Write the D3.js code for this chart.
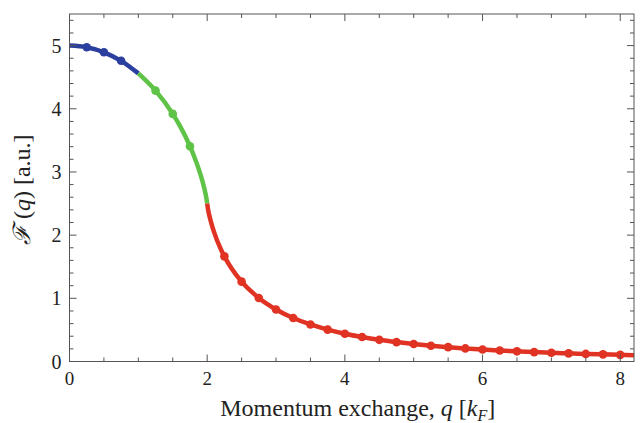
<!DOCTYPE html>
<html><head>
<meta charset="utf-8">
<script src="https://d3js.org/d3.v7.min.js"></script>
<style>
  body { margin: 0; background: white; }
  svg text { font-family: "Liberation Serif", "DejaVu Serif", serif; fill: #222; }
</style>
</head>
<body>
<svg id="chart" width="640" height="423"></svg>
<script>
// curve samples (q in k_F, F in a.u.)
let lineQ = [0, 0.25, 0.5, 0.75, 1, 1.25, 1.5, 1.6, 1.75, 1.8, 1.9, 1.95, 1.99, 2,
             2.01, 2.05, 2.1, 2.2, 2.25, 2.35, 2.5, 2.75, 3, 3.25, 3.5, 3.75, 4, 4.25, 4.5, 4.75,
             5, 5.25, 5.5, 5.75, 6, 6.25, 6.5, 6.75, 7, 7.25, 7.5, 7.75, 8, 8.2];
let lineF = [5.0, 4.974, 4.894, 4.759, 4.560, 4.287, 3.919, 3.736, 3.407, 3.277, 2.970, 2.777, 2.575, 2.5,
             2.425, 2.229, 2.047, 1.773, 1.664, 1.480, 1.264, 1.006, 0.824, 0.689, 0.586, 0.505, 0.440, 0.387, 0.343, 0.307,
             0.276, 0.249, 0.227, 0.207, 0.189, 0.174, 0.161, 0.149, 0.138, 0.129, 0.120, 0.113, 0.105, 0.100];

// dot positions
let dotQ = [0.25, 0.5, 0.75, 1.25, 1.5, 1.75, 2.25, 2.5, 2.75, 3, 3.25, 3.5, 3.75, 4, 4.25, 4.5, 4.75,
            5, 5.25, 5.5, 5.75, 6, 6.25, 6.5, 6.75, 7, 7.25, 7.5, 7.75, 8];

// colour bands along q
let bandStart = [0, 1, 2];
let bandEnd = [1, 2, 8.2];
let bandColor = ["#2b3f9e", "#5ec346", "#e03324"];

let xTicks = [0, 2, 4, 6, 8];
let yTicks = [0, 1, 2, 3, 4, 5];

let svg = d3.select("#chart");
let L = 69.5, R = 634, T = 14, B = 361.5;

let x = d3.scaleLinear().domain([0, 8.2]).range([L, R]);
let y = d3.scaleLinear().domain([0, 5.5]).range([B, T]);

let pts = lineQ.map((q, i) => [q, lineF[i]]);
let fAt = q => pts.find(p => p[0] === q)[1];

svg.append("clipPath").attr("id", "clip")
  .append("rect").attr("x", L).attr("y", T).attr("width", R - L).attr("height", B - T);

let plot = svg.append("g").attr("clip-path", "url(#clip)");

let line = d3.line().x(d => x(d[0])).y(d => y(d[1])).curve(d3.curveMonotoneX);

bandStart.forEach((s, i) => {
  let seg = pts.filter(p => p[0] >= s && p[0] <= bandEnd[i]);
  plot.append("path")
    .attr("d", line(seg))
    .attr("fill", "none")
    .attr("stroke", bandColor[i])
    .attr("stroke-width", 4.5);
});

plot.selectAll("circle.dot")
  .data(dotQ)
  .enter().append("circle")
  .attr("class", "dot")
  .attr("cx", d => x(d))
  .attr("cy", d => y(fAt(d)))
  .attr("r", 4.3)
  .attr("fill", d => bandColor[bandStart.findIndex((s, i) => d >= s && d <= bandEnd[i])]);

// frame + ticks on all sides, pointing inward
let frame = svg.append("g").attr("stroke", "#555").attr("stroke-width", 1);
frame.append("rect").attr("x", L).attr("y", T).attr("width", R - L).attr("height", B - T)
  .attr("fill", "none");

let xMinor = d3.range(0, 8.21, 0.5);
xMinor.forEach(v => {
  let len = (v % 2 === 0) ? 7 : 4;
  frame.append("line").attr("x1", x(v)).attr("x2", x(v)).attr("y1", B).attr("y2", B - len);
  frame.append("line").attr("x1", x(v)).attr("x2", x(v)).attr("y1", T).attr("y2", T + len);
});
let yMinor = d3.range(0, 5.51, 0.2);
yMinor.forEach(v => {
  let major = Math.abs(v - Math.round(v)) < 1e-6;
  let len = major ? 7 : 4;
  frame.append("line").attr("x1", L).attr("x2", L + len).attr("y1", y(v)).attr("y2", y(v));
  frame.append("line").attr("x1", R).attr("x2", R - len).attr("y1", y(v)).attr("y2", y(v));
});

svg.selectAll("text.xt").data(xTicks).enter().append("text")
  .attr("class", "xt")
  .attr("x", d => x(d)).attr("y", B + 23.5)
  .attr("text-anchor", "middle")
  .style("font-size", "19px")
  .text(d => d);

svg.selectAll("text.yt").data(yTicks).enter().append("text")
  .attr("class", "yt")
  .attr("x", L - 8).attr("y", d => y(d) + 7)
  .attr("text-anchor", "end")
  .style("font-size", "20px")
  .text(d => d);

// axis labels
let xl = svg.append("text")
  .attr("x", (L + R) / 2 + 6).attr("y", 416)
  .attr("text-anchor", "middle")
  .style("font-size", "24px");
xl.append("tspan").text("Momentum exchange, ");
xl.append("tspan").style("font-style", "italic").text("q");
xl.append("tspan").text(" [");
xl.append("tspan").style("font-style", "italic").text("k");
xl.append("tspan").style("font-style", "italic").style("font-size", "16px").attr("dy", 5).text("F");
xl.append("tspan").attr("dy", -5).text("]");

let yl = svg.append("text")
  .attr("transform", "translate(30," + ((T + B) / 2 + 2) + ") rotate(-90)")
  .attr("text-anchor", "middle")
  .style("font-size", "24px");
yl.append("tspan").style("font-style", "italic").text("\u2131");
yl.append("tspan").text(" (");
yl.append("tspan").style("font-style", "italic").text("q");
yl.append("tspan").text(") [a.u.]");
</script>
</body>
</html>
